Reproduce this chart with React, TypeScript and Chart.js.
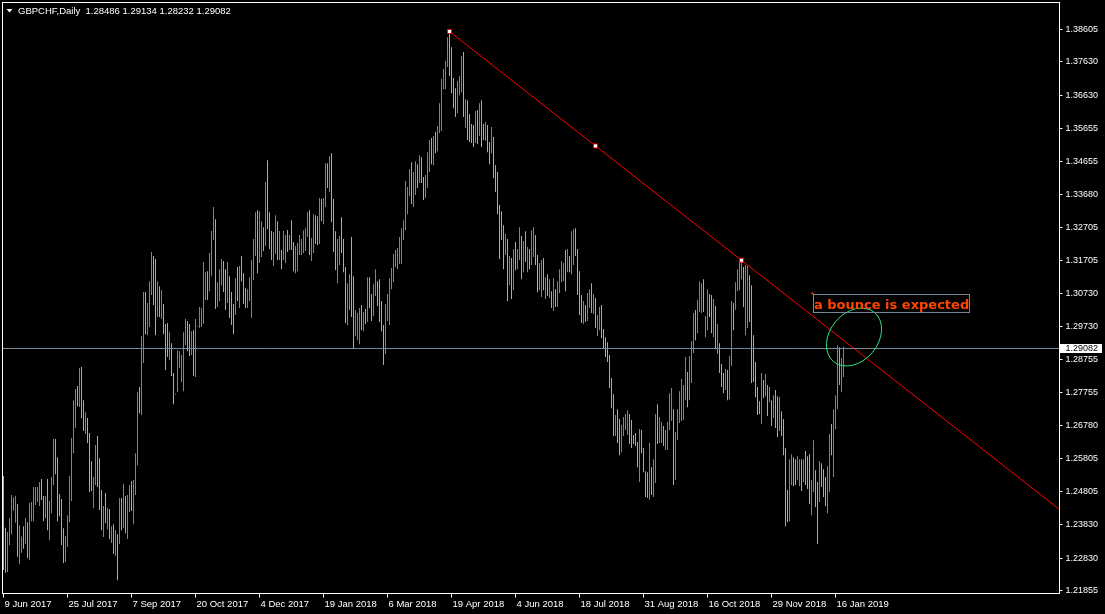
import React, { useEffect, useRef } from "react";
import { Chart, registerables } from "chart.js";

Chart.register(...registerables);

// ---------- data ----------
const symbolTitle = "GBPCHF,Daily";
const lastOpen = 1.28486;
const lastClose = 1.29082;

const highs: number[] = [
  1.2528,1.2373,1.2361,1.2402,1.2471,1.2464,1.2468,1.2444,1.2381,1.2347,
  1.2378,1.2402,1.2390,1.2447,1.2450,1.2495,1.2495,1.2495,1.2510,1.2519,
  1.2468,1.2468,1.2519,1.2453,1.2525,1.2638,1.2638,1.2584,1.2474,1.2459,
  1.2372,1.2349,1.2411,1.2528,1.2641,1.2754,1.2787,1.2796,1.2850,1.2853,
  1.2754,1.2718,1.2701,1.2656,1.2572,1.2525,1.2620,1.2647,1.2581,1.2486,
  1.2438,1.2477,1.2432,1.2429,1.2378,1.2384,1.2366,1.2354,1.2462,1.2462,
  1.2504,1.2468,1.2471,1.2501,1.2513,1.2516,1.2596,1.2778,1.2793,1.2945,
  1.3077,1.3077,1.3044,1.3109,1.3196,1.3184,1.3175,1.3109,1.3094,1.3082,
  1.3041,1.2981,1.2984,1.2957,1.2924,1.2835,1.2774,1.2903,1.2900,1.2889,
  1.2957,1.2996,1.2990,1.2981,1.2960,1.2963,1.2996,1.2976,1.3032,1.3029,
  1.3166,1.3136,1.3139,1.3193,1.3259,1.3330,1.3294,1.3106,1.3145,1.3175,
  1.3169,1.3145,1.3166,1.3124,1.3077,1.3041,1.3118,1.3151,1.3154,1.3184,
  1.3133,1.3088,1.3085,1.3121,1.3172,1.3235,1.3315,1.3321,1.3318,1.3288,
  1.3270,1.3405,1.3470,1.3315,1.3259,1.3256,1.3306,1.3288,1.3259,1.3202,
  1.3259,1.3247,1.3262,1.3247,1.3291,1.3226,1.3214,1.3223,1.3247,1.3235,
  1.3261,1.3267,1.3315,1.3321,1.3238,1.3309,1.3306,1.3303,1.3357,1.3354,
  1.3357,1.3461,1.3461,1.3482,1.3491,1.3354,1.3258,1.3235,1.3244,1.3300,
  1.3235,1.3151,1.3103,1.3130,1.3241,1.3124,1.3023,1.3014,1.3029,1.3038,
  1.3017,1.3026,1.3121,1.3121,1.3071,1.3100,1.3145,1.3109,1.3115,1.3050,
  1.2978,1.3041,1.3071,1.3118,1.3148,1.3190,1.3202,1.3208,1.3241,1.3267,
  1.3291,1.3408,1.3390,1.3443,1.3464,1.3435,1.3467,1.3458,1.3485,1.3479,
  1.3420,1.3426,1.3494,1.3530,1.3536,1.3542,1.3554,1.3572,1.3640,1.3712,
  1.3742,1.3766,1.3837,1.3856,1.3807,1.3715,1.3685,1.3706,1.3721,1.3781,
  1.3793,1.3652,1.3649,1.3608,1.3578,1.3575,1.3617,1.3620,1.3640,1.3649,
  1.3578,1.3584,1.3575,1.3524,1.3569,1.3539,1.3455,1.3435,1.3336,1.3318,
  1.3276,1.3250,1.3235,1.3184,1.3178,1.3205,1.3226,1.3205,1.3270,1.3244,
  1.3229,1.3258,1.3211,1.3205,1.3261,1.3270,1.3247,1.3187,1.3163,1.3172,
  1.3178,1.3121,1.3130,1.3115,1.3079,1.3118,1.3085,1.3109,1.3145,1.3169,
  1.3163,1.3202,1.3205,1.3184,1.3258,1.3264,1.3267,1.3205,1.3139,1.3068,
  1.3050,1.3038,1.3074,1.3085,1.3103,1.3071,1.3059,1.3008,1.3032,1.3038,
  1.2966,1.2942,1.2927,1.2889,1.2820,1.2772,1.2710,1.2727,1.2698,1.2680,
  1.2704,1.2713,1.2724,1.2713,1.2695,1.2650,1.2656,1.2629,1.2668,1.2665,
  1.2611,1.2542,1.2539,1.2626,1.2554,1.2578,1.2713,1.2742,1.2704,1.2689,
  1.2677,1.2665,1.2689,1.2775,1.2790,1.2727,1.2659,1.2727,1.2781,1.2817,
  1.2799,1.2883,1.2838,1.2886,1.2930,1.3014,1.3023,1.3053,1.3109,1.3103,
  1.3115,1.3005,1.3085,1.3071,1.3068,1.3056,1.3035,1.2981,1.2924,1.2862,
  1.2835,1.2847,1.2844,1.2886,1.3050,1.3044,1.3106,1.3145,1.3166,1.3169,
  1.3151,1.3157,1.3154,1.3127,1.3097,1.2948,1.2868,1.2793,1.2751,1.2835,
  1.2814,1.2832,1.2799,1.2793,1.2754,1.2769,1.2784,1.2766,1.2763,1.2721,
  1.2698,1.2611,1.2486,1.2578,1.2593,1.2584,1.2578,1.2587,1.2578,1.2578,
  1.2578,1.2602,1.2587,1.2593,1.2516,1.2635,1.2545,1.2510,1.2572,1.2566,
  1.2548,1.2525,1.2557,1.2653,1.2683,1.2727,1.2769,1.2918,1.2912,1.2880,
  1.29134,
];

const lows: number[] = [
  1.2247,1.2239,1.2241,1.2322,1.2354,1.2424,1.2388,1.2287,1.2265,1.2299,
  1.2311,1.2325,1.2283,1.2277,1.2393,1.2393,1.2441,1.2450,1.2438,1.2456,
  1.2393,1.2402,1.2366,1.2337,1.2417,1.2501,1.2533,1.2393,1.2408,1.2322,
  1.2268,1.2271,1.2316,1.2390,1.2453,1.2596,1.2671,1.2736,1.2734,1.2701,
  1.2662,1.2653,1.2626,1.2480,1.2483,1.2432,1.2501,1.2495,1.2426,1.2366,
  1.2346,1.2387,1.2369,1.2340,1.2328,1.2295,1.2289,1.2217,1.2325,1.2366,
  1.2372,1.2357,1.2340,1.2420,1.2423,1.2384,1.2471,1.2560,1.2715,1.2710,
  1.2865,1.2951,1.2948,1.2972,1.3068,1.3038,1.2948,1.3002,1.3002,1.2996,
  1.2951,1.2844,1.2883,1.2874,1.2826,1.2742,1.2771,1.2778,1.2850,1.2808,
  1.2781,1.2918,1.2900,1.2886,1.2889,1.2826,1.2823,1.2973,1.2969,1.2972,
  1.2981,1.3053,1.3053,1.3079,1.3124,1.3232,1.3026,1.3032,1.3050,1.3097,
  1.3077,1.3023,1.3044,1.2999,1.2978,1.2951,1.3008,1.3050,1.3029,1.3109,
  1.3041,1.3029,1.3029,1.3050,1.2999,1.3112,1.3184,1.3133,1.3163,1.3181,
  1.3199,1.3214,1.3264,1.3205,1.3172,1.3154,1.3190,1.3172,1.3172,1.3145,
  1.3172,1.3163,1.3196,1.3202,1.3202,1.3139,1.3133,1.3139,1.3187,1.3187,
  1.3193,1.3199,1.3241,1.3187,1.3169,1.3193,1.3220,1.3217,1.3220,1.3288,
  1.3279,1.3330,1.3387,1.3375,1.3285,1.3196,1.3142,1.3103,1.3157,1.3193,
  1.3136,1.2984,1.2978,1.3023,1.3002,1.2909,1.2945,1.2933,1.2921,1.2963,
  1.2960,1.2981,1.2987,1.3029,1.2990,1.3005,1.3065,1.3035,1.2987,1.2960,
  1.2859,1.2891,1.2990,1.2978,1.3085,1.3106,1.3151,1.3145,1.3160,1.3160,
  1.3232,1.3261,1.3309,1.3363,1.3339,1.3330,1.3366,1.3387,1.3402,1.3402,
  1.3351,1.3357,1.3387,1.3435,1.3458,1.3455,1.3491,1.3497,1.3551,1.3557,
  1.3682,1.3682,1.3748,1.3721,1.3670,1.3625,1.3599,1.3610,1.3664,1.3673,
  1.3599,1.3566,1.3530,1.3524,1.3521,1.3509,1.3521,1.3518,1.3542,1.3509,
  1.3530,1.3527,1.3494,1.3458,1.3491,1.3417,1.3375,1.3309,1.3175,1.3232,
  1.3145,1.3187,1.3050,1.3097,1.3056,1.3082,1.3142,1.3145,1.3172,1.3115,
  1.3136,1.3166,1.3136,1.3145,1.3157,1.3181,1.3157,1.3076,1.3082,1.3062,
  1.3082,1.3056,1.3065,1.3059,1.3029,1.3020,1.3032,1.3032,1.3073,1.3106,
  1.3109,1.3079,1.3136,1.3136,1.3130,1.3157,1.3184,1.3068,1.3008,1.2984,
  1.2981,1.2987,1.2990,1.3029,1.3014,1.3011,1.2969,1.2945,1.2963,1.2939,
  1.2909,1.2883,1.2868,1.2790,1.2730,1.2647,1.2647,1.2626,1.2590,1.2599,
  1.2647,1.2665,1.2650,1.2623,1.2611,1.2623,1.2617,1.2554,1.2510,1.2596,
  1.2539,1.2465,1.2462,1.2456,1.2471,1.2465,1.2507,1.2623,1.2626,1.2626,
  1.2617,1.2605,1.2605,1.2665,1.2692,1.2501,1.2516,1.2635,1.2686,1.2692,
  1.2695,1.2754,1.2733,1.2754,1.2805,1.2895,1.2933,1.2954,1.3017,1.3014,
  1.3017,1.2942,1.2963,1.3002,1.2954,1.2942,1.2906,1.2892,1.2835,1.2793,
  1.2775,1.2784,1.2754,1.2757,1.2856,1.2963,1.3023,1.3079,1.3082,1.3115,
  1.3032,1.2948,1.2969,1.2987,1.2805,1.2808,1.2763,1.2710,1.2713,1.2683,
  1.2760,1.2766,1.2707,1.2748,1.2677,1.2701,1.2671,1.2644,1.2662,1.2647,
  1.2590,1.2378,1.2390,1.2393,1.2501,1.2498,1.2501,1.2516,1.2498,1.2483,
  1.2510,1.2501,1.2489,1.2444,1.2411,1.2480,1.2435,1.2325,1.2450,1.2495,
  1.2465,1.2438,1.2417,1.2480,1.2590,1.2525,1.2668,1.2727,1.2799,1.2778,
  1.28232,
];

// u = up bar, d = down bar, n = unchanged
const dirs: string = [
  "dduuuuuduu", "duduuuuuud", "duduuudddd", "duuuuuudud", "duddduuddd",
  "ududududud", "uduuduuudu", "uduuuddudu", "ddduddnuuu", "uuddudunuu",
  "uuduuuduuu", "ddudddudud", "dduuuuuduu", "duddduudud", "uududduuuu",
  "uuuduuddud", "uududdduud", "dduudduuud", "ududduuddd", "duuuuuuuuu",
  "uuuuduudud", "duuududuuu", "uuudddduuu", "duddddudud", "dudduddddd",
  "dudududuud", "ududuudduu", "dudududuuu", "ududuudddd", "uduududuud",
  "dddddduddu", "uuudddddud", "ddduduudnu", "duuuuduuuu", "uuduuuduuu",
  "duuddududd", "duduuduuuu", "duuddddddu", "dudududdud", "ddduudduud",
  "uddduuddud", "dduuduuudu", "u",
].join("");

const dateLabels: string[] = [
  "9 Jun 2017", "25 Jul 2017", "7 Sep 2017", "20 Oct 2017", "4 Dec 2017",
  "19 Jan 2018", "6 Mar 2018", "19 Apr 2018", "4 Jun 2018", "18 Jul 2018",
  "31 Aug 2018", "16 Oct 2018", "29 Nov 2018", "16 Jan 2019",
];
const barsPerDateLabel = 32;

const priceTicks: number[] = [
  1.38605, 1.3763, 1.3663, 1.35655, 1.34655, 1.3368, 1.32705, 1.31705, 1.3073,
  1.2973, 1.28755, 1.27755, 1.2678, 1.25805, 1.24805, 1.2383, 1.2283, 1.21855,
];

const trendAnchors = [
  { bar: 223, price: 1.38539 },
  { bar: 369, price: 1.31713 },
];
const noteText = "a bounce is expected";
const noteAnchor = { bar: 404.5, price: 1.30728 };
const ellipseCenter = { bar: 425.25, price: 1.29424 };

// view range
const X_MIN = -0.5;
const X_MAX = 528;
const Y_MIN = 1.21772;
const Y_MAX = 1.39405;

// ---------- styles ----------
const UP = "#1EA3E4";
const DOWN = "#EFA22B";
const FLAT = "#22C422";
const FG = "#FFFFFF";
const BID_LINE = "#778899";
const FONT = "'Liberation Sans', Arial, sans-serif";

export default function App() {
  const ref = useRef<HTMLCanvasElement | null>(null);

  useEffect(() => {
    const canvas = ref.current;
    if (!canvas) return;

    const barData = highs.map((h, i) => ({ x: i, y: [lows[i], h] }));
    const barColors = highs.map((_, i) =>
      dirs[i] === "u" ? UP : dirs[i] === "d" ? DOWN : FLAT
    );
    const [a, b] = trendAnchors;
    const slope = (b.price - a.price) / (b.bar - a.bar);
    const trendData = [
      { x: a.bar, y: a.price },
      { x: X_MAX, y: a.price + slope * (X_MAX - a.bar) },
    ];
    const markerData = [
      { x: a.bar, y: a.price },
      { x: (a.bar + b.bar) / 2, y: (a.price + b.price) / 2 },
      { x: b.bar, y: b.price },
    ];
    const title = `${symbolTitle}  ${lastOpen.toFixed(5)} ${highs[highs.length - 1].toFixed(5)} ${lows[lows.length - 1].toFixed(5)} ${lastClose.toFixed(5)}`;

    const overlay = {
      id: "mtOverlay",
      beforeDraw(chart: any) {
        const ctx = chart.ctx;
        ctx.save();
        ctx.fillStyle = "#000";
        ctx.fillRect(0, 0, chart.width, chart.height);
        ctx.restore();
      },
      afterDatasetsDraw(chart: any) {
        const ctx = chart.ctx;
        const xs = chart.scales.x;
        const ys = chart.scales.y;
        const area = chart.chartArea;
        ctx.save();
        // bid line
        const by = Math.floor(ys.getPixelForValue(lastClose)) + 0.5;
        ctx.strokeStyle = BID_LINE;
        ctx.lineWidth = 1;
        ctx.beginPath();
        ctx.moveTo(area.left, by);
        ctx.lineTo(area.right, by);
        ctx.stroke();

        // ellipse
        const ex = xs.getPixelForValue(ellipseCenter.bar);
        const ey = ys.getPixelForValue(ellipseCenter.price);
        ctx.strokeStyle = "#2FE37F";
        ctx.beginPath();
        ctx.ellipse(ex, ey, 32, 24, (-50 * Math.PI) / 180, 0, Math.PI * 2);
        ctx.stroke();

        // text note
        const nx = Math.floor(xs.getPixelForValue(noteAnchor.bar)) + 0.5;
        const ny = Math.floor(ys.getPixelForValue(noteAnchor.price)) + 0.5;
        ctx.fillStyle = "#FF4500";
        ctx.fillRect(nx - 1, ny - 1, 2, 2);
        ctx.strokeStyle = BID_LINE;
        ctx.strokeRect(nx + 1, ny + 1, 156, 18);
        ctx.font = `bold 13px 'DejaVu Sans', sans-serif`;
        ctx.textBaseline = "alphabetic";
        ctx.textAlign = "left";
        ctx.fillStyle = "#FF4500";
        ctx.fillText(noteText, nx + 1.5, ny + 15);

        // frame
        ctx.strokeStyle = FG;
        ctx.strokeRect(area.left, area.top, area.right - area.left, area.bottom - area.top);
        ctx.restore();
      },
      afterDraw(chart: any) {
        const ctx = chart.ctx;
        const ys = chart.scales.y;
        const area = chart.chartArea;
        ctx.save();
        // bid price box
        const by = Math.floor(ys.getPixelForValue(lastClose));
        ctx.fillStyle = "#FFFFFF";
        ctx.fillRect(area.right + 0.5, by - 4, 42, 9);
        ctx.fillStyle = "#000000";
        ctx.font = `9px ${FONT}`;
        ctx.textBaseline = "middle";
        ctx.textAlign = "left";
        ctx.fillText(lastClose.toFixed(5), area.right + 6, by + 0.5);

        // title
        ctx.fillStyle = FG;
        ctx.beginPath();
        ctx.moveTo(6.5, 9);
        ctx.lineTo(12.5, 9);
        ctx.lineTo(9.5, 12.5);
        ctx.closePath();
        ctx.fill();
        ctx.font = `9.5px ${FONT}`;
        ctx.textBaseline = "alphabetic";
        ctx.fillText(title, 18, 14);
        ctx.restore();
      },
    };

    const chart = new Chart(canvas, {
      type: "bar",
      data: {
        datasets: [
          {
            type: "line",
            data: markerData,
            showLine: false,
            pointStyle: "rect",
            pointRadius: 2.83,
            pointBackgroundColor: "#FFFFFF",
            pointBorderColor: "#FF0000",
            pointBorderWidth: 1,
            order: 0,
          } as any,
          {
            type: "line",
            data: trendData,
            borderColor: "#FF0000",
            borderWidth: 1,
            pointRadius: 0,
            order: 1,
          } as any,
          {
            type: "bar",
            data: barData,
            backgroundColor: barColors,
            borderWidth: 0,
            barThickness: 1,
            inflateAmount: 0,
            order: 3,
          } as any,
        ],
      },
      options: {
        responsive: false,
        animation: false,
        events: [],
        devicePixelRatio: 1,
        layout: { autoPadding: false, padding: { left: 2.5, top: 2.5, right: 0, bottom: 0 } },
        plugins: { legend: { display: false }, tooltip: { enabled: false } },
        scales: {
          x: {
            type: "linear",
            min: X_MIN,
            max: X_MAX,
            bounds: "data",
            offset: false,
            grid: {
              display: true,
              offset: false,
              drawOnChartArea: false,
              drawTicks: true,
              tickLength: 4,
              color: FG,
            },
            border: { display: false },
            ticks: {
              color: FG,
              font: { family: FONT, size: 9.5 },
              autoSkip: false,
              maxRotation: 0,
              minRotation: 0,
              align: "start",
              labelOffset: 1,
              padding: 1,
              callback: (_v: any, i: number) => dateLabels[i] ?? "",
            },
            afterBuildTicks: (scale: any) => {
              scale.ticks = dateLabels.map((_, k) => ({ value: k * barsPerDateLabel }));
            },
            afterFit: (scale: any) => {
              scale.height = 20.5;
              scale.paddingLeft = 0;
              scale.paddingRight = 0;
              scale.paddingTop = 0;
              scale.paddingBottom = 0;
            },
          },
          y: {
            type: "linear",
            position: "right",
            min: Y_MIN,
            max: Y_MAX,
            bounds: "data",
            beginAtZero: false,
            grid: {
              display: true,
              drawOnChartArea: false,
              drawTicks: true,
              tickLength: 3,
              color: FG,
            },
            border: { display: false },
            ticks: {
              color: FG,
              font: { family: FONT, size: 9 },
              autoSkip: false,
              padding: 3,
              callback: (v: any) => Number(v).toFixed(5),
            },
            afterBuildTicks: (scale: any) => {
              scale.ticks = priceTicks.map((v) => ({ value: v }));
            },
            afterFit: (scale: any) => {
              scale.width = 45.5;
              scale.paddingLeft = 0;
              scale.paddingRight = 0;
              scale.paddingTop = 0;
              scale.paddingBottom = 0;
            },
          },
        },
      } as any,
      plugins: [overlay],
    });

    return () => chart.destroy();
  }, []);

  return (
    <div
      style={{
        position: "fixed",
        left: 0,
        top: 0,
        width: 1105,
        height: 614,
        background: "#000",
        overflow: "hidden",
      }}
    >
      <canvas ref={ref} width={1105} height={614} style={{ display: "block" }} />
    </div>
  );
}
